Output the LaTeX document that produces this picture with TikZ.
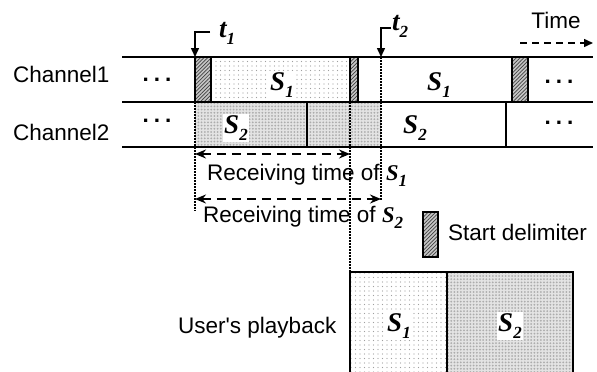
\documentclass[tikz,border=0pt]{standalone}
\usepackage{fontspec}
\setmainfont{Liberation Sans}
\newfontfamily\tms{Liberation Serif}
\usetikzlibrary{patterns.meta,arrows.meta}

% bold italic segment / time symbols with a lowered index
\newcommand{\sym}[2]{{\tms\bfseries\itshape #1\raisebox{-0.28em}{\fontsize{17}{17}\selectfont #2}}}
\newcommand{\dotsrow}{{\bfseries.\hspace{5pt}.\hspace{5pt}.}}

\tikzset{
  txt/.style={inner sep=0pt, font=\fontsize{22.5}{24}\selectfont},
  symb/.style={inner sep=1.5pt, font=\fontsize{27}{28}\selectfont},
  rail/.style={line width=1.6pt},
  segone/.style={pattern={Dots[radius=0.6pt,distance=4.5pt]}, pattern color=gray!75},
  segtwo/.style={preaction={fill=gray!22}, pattern={Dots[radius=1pt,distance=3.2pt]}, pattern color=gray!65},
  delim/.style={preaction={fill=gray!45}, pattern={Lines[angle=45,distance=2.6pt,line width=0.7pt]},
                pattern color=black!75, draw, line width=1.6pt},
  dotline/.style={line width=1.6pt, dash pattern=on 1.5pt off 1.5pt},
  span/.style={line width=1.6pt, dash pattern=on 9pt off 6pt, {Stealth[length=11pt,width=9pt]}-{Stealth[length=11pt,width=9pt]}},
  markline/.style={line width=1.5pt},
}

\begin{document}
\begin{tikzpicture}[x=1pt,y=-1pt]
\path[use as bounding box, fill=white] (0,0) rectangle (597,372);

% shaded segment areas
\path[segone] (211,57) rectangle (350,102);
\path[segtwo] (195,102) rectangle (381,147);
\path[segone] (350,272) rectangle (447,373);
\path[segtwo] (447,272) rectangle (573,373);

% key instants
\coordinate (a) at (195,57);
\coordinate (b) at (350,57);
\coordinate (c) at (381,57);

% dotted guides
\draw[dotline] (195,102) -- (195,211);
\draw[dotline] (350,102) -- (350,272);
\draw[dotline] (c) -- (381,201);

% channel rails
\draw[rail] (122,57) -- (593,57);
\draw[rail] (122,102) -- (593,102);
\draw[rail] (122,147) -- (593,147);
\draw[rail] (307,102) -- (307,147);
\draw[rail] (506,102) -- (506,147);

% start delimiters
\draw[delim] (195,57) rectangle (211,102);
\draw[delim] (350,57) rectangle (358,102);
\draw[delim] (512,57) rectangle (528,102);

% playback frame
\draw[rail] (350,373) -- (350,272) -- (573,272) -- (573,373);
\draw[rail] (447,272) -- (447,373);

% row labels
\node[txt, anchor=base west] (ch1) at (13,82) {Channel1};
\node[txt, anchor=base west] (ch2) at (13,140) {Channel2};
\node[txt] (e1) at (157,80) {\dotsrow};
\node[txt] (e2) at (157,121) {\dotsrow};
\node[txt] (e3) at (559,82) {\dotsrow};
\node[txt] (e4) at (559,123) {\dotsrow};

% segment names
\node[symb, fill=white, anchor=base] (s1a) at (282,90) {\sym{S}{1}};
\node[symb, anchor=base] (s1b) at (439,90) {\sym{S}{1}};
\node[symb, fill=white, anchor=base] (s2a) at (236,133) {\sym{S}{2}};
\node[symb, anchor=base] (s2b) at (415,133) {\sym{S}{2}};
\node[symb, fill=white, anchor=base] (s1c) at (399,331) {\sym{S}{1}};
\node[symb, fill=white, anchor=base] (s2c) at (510,331) {\sym{S}{2}};

% t1 and t2 markers
\coordinate (t1top) at (195,32);
\coordinate (t1end) at (210,32);
\draw[markline, -{Triangle[length=9pt,width=8pt]}] (t1end) -- (t1top) -- (a);
\node[symb, anchor=base west, inner sep=0pt] (t1) at (219,37) {\sym{t}{1}};
\coordinate (t2top) at (381,28);
\coordinate (t2end) at (391,28);
\draw[markline, -{Triangle[length=9pt,width=8pt]}] (t2end) -- (t2top) -- (c);
\node[symb, anchor=base west, inner sep=0pt] (t2) at (392,30) {\sym{t}{2}};

% time direction
\node[txt, anchor=base] (time) at (556,28) {Time};
\coordinate (tl) at (520,43);
\coordinate (tr) at (593,43);
\draw[line width=1.5pt, dash pattern=on 7pt off 5pt, -{Triangle[length=9pt,width=8pt]}] (tl) -- (tr);

% receiving intervals
\coordinate (r1l) at (195,154);
\coordinate (r1r) at (350,154);
\coordinate (r2l) at (195,199);
\coordinate (r2r) at (381,199);
\draw[span] (r1l) -- (r1r);
\draw[span] (r2l) -- (r2r);
\node[txt, anchor=base west] (rt1) at (207,180) {Receiving time of \sym{S}{1}};
\node[txt, anchor=base west] (rt2) at (203,222) {Receiving time of \sym{S}{2}};

% legend
\draw[delim] (423,212) rectangle (438,257);
\node[txt, anchor=base west] (legend) at (448,240) {Start delimiter};

% playback label
\node[txt, anchor=base west] (play) at (178,333) {User\textquotesingle s playback};
\end{tikzpicture}
\end{document}
